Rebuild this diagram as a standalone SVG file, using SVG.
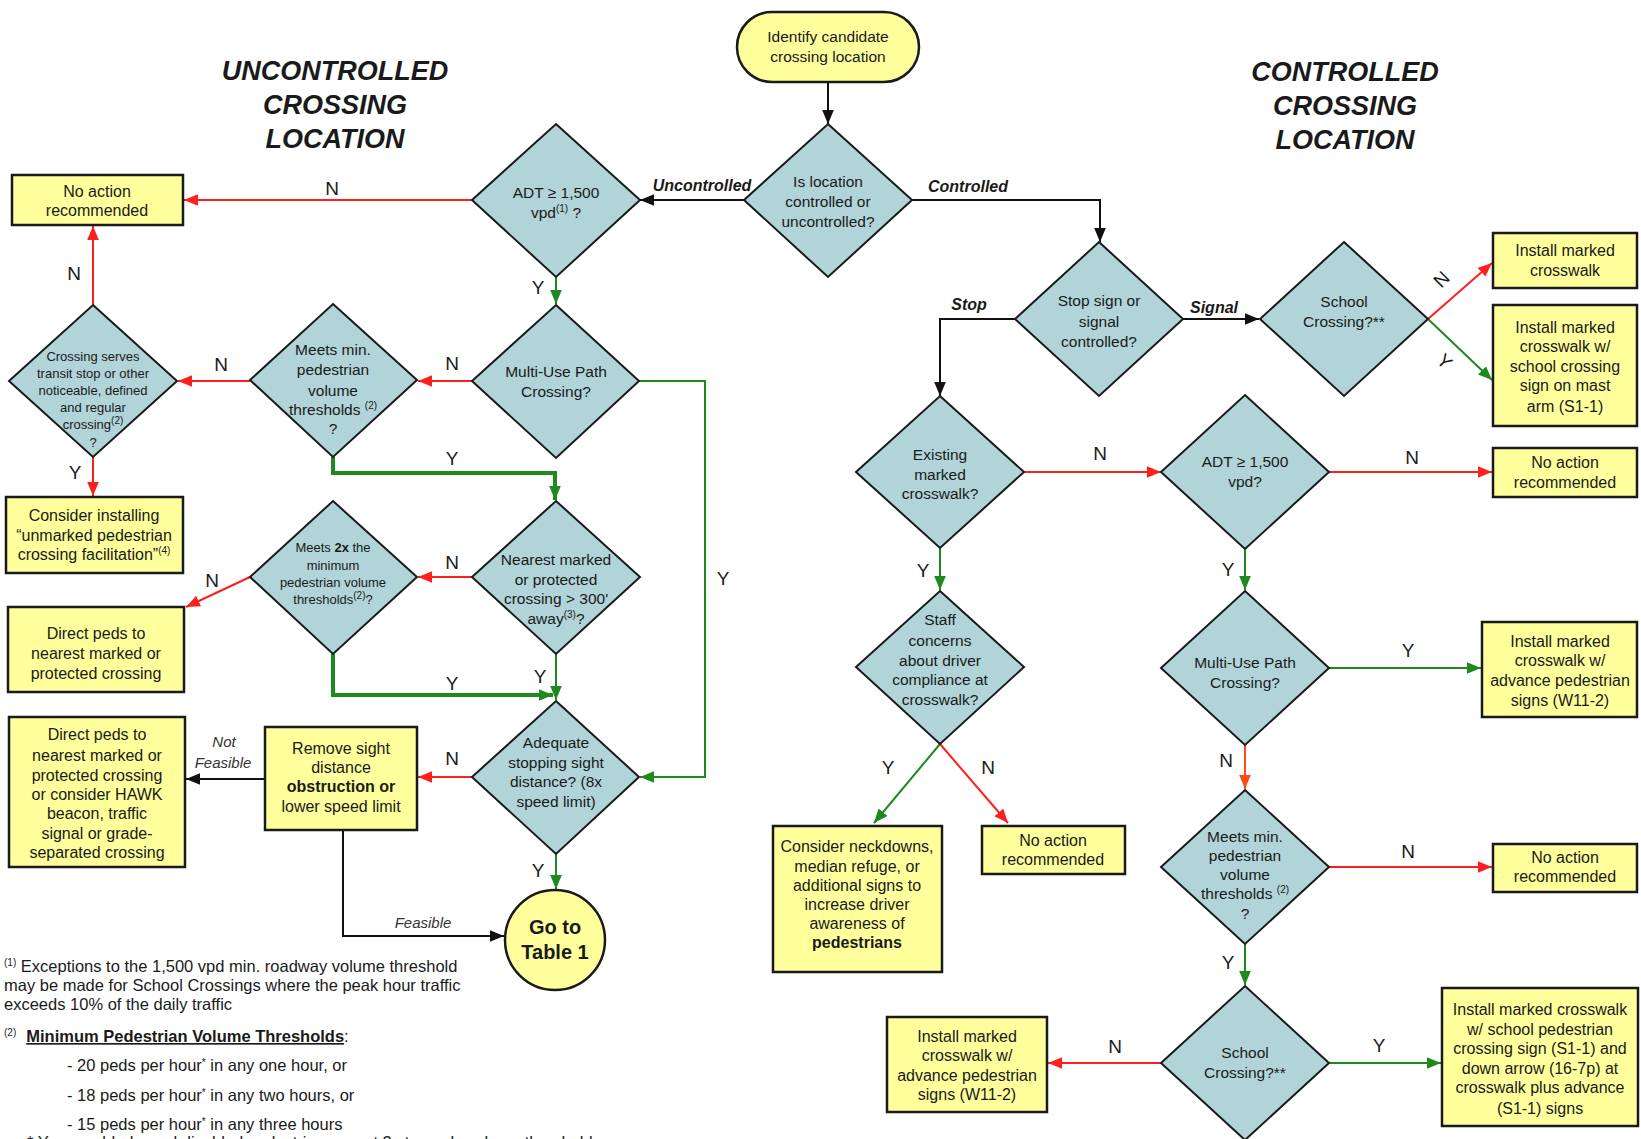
<svg xmlns="http://www.w3.org/2000/svg" width="1641" height="1139" viewBox="0 0 1641 1139">
<style>
text{font-family:"Liberation Sans",Arial,sans-serif;fill:#1a1a1a}
.dia{fill:#b0d4d8;stroke:#1a1a1a;stroke-width:2}
.box{fill:#ffff9c;stroke:#1a1a1a;stroke-width:2.5}
.t{font-size:15.5px;text-anchor:middle}
.ts{font-size:13px;text-anchor:middle}
.tb{font-size:16px;text-anchor:middle}
.sup{font-size:10px}
.lbl{font-size:19px;text-anchor:middle}
.hdr{font-size:27px;font-weight:bold;font-style:italic;text-anchor:middle}
.bi{font-size:16px;font-weight:bold;font-style:italic;text-anchor:middle}
.it{font-size:15px;font-style:italic;text-anchor:middle;fill:#333}
.fn{font-size:16.5px}
.k{stroke:#111;stroke-width:2;fill:none}
.r{stroke:#ff1f1f;stroke-width:2;fill:none}
.o{stroke:#ff4a1a;stroke-width:2;fill:none}
.g{stroke:#1e8a1e;stroke-width:2;fill:none}
.gt{stroke:#1e8a1e;stroke-width:4;fill:none}
</style>
<defs>
<marker id="ak" viewBox="0 0 12 10" refX="12" refY="5" markerWidth="14" markerHeight="12" markerUnits="userSpaceOnUse" orient="auto"><path d="M0,0 L12,5 L0,10 z" fill="#111"/></marker>
<marker id="ar" viewBox="0 0 12 10" refX="12" refY="5" markerWidth="14" markerHeight="12" markerUnits="userSpaceOnUse" orient="auto"><path d="M0,0 L12,5 L0,10 z" fill="#ff1f1f"/></marker>
<marker id="ao" viewBox="0 0 12 10" refX="12" refY="5" markerWidth="14" markerHeight="12" markerUnits="userSpaceOnUse" orient="auto"><path d="M0,0 L12,5 L0,10 z" fill="#ff4a1a"/></marker>
<marker id="ag" viewBox="0 0 12 10" refX="12" refY="5" markerWidth="14" markerHeight="12" markerUnits="userSpaceOnUse" orient="auto"><path d="M0,0 L12,5 L0,10 z" fill="#1e8a1e"/></marker>
</defs>
<rect width="1641" height="1139" fill="#ffffff"/>

<g id="titles">
<text class="hdr" x="335" y="80">UNCONTROLLED</text>
<text class="hdr" x="335" y="114">CROSSING</text>
<text class="hdr" x="335" y="148">LOCATION</text>
<text class="hdr" x="1345" y="81">CONTROLLED</text>
<text class="hdr" x="1345" y="115">CROSSING</text>
<text class="hdr" x="1345" y="149">LOCATION</text>
</g>

<g id="connectors">
<path class="k" d="M828,82 V124" marker-end="url(#ak)"/>
<path class="k" d="M744,200 H640" marker-end="url(#ak)"/>
<text class="bi" x="702" y="191">Uncontrolled</text>
<path class="k" d="M912,200 H1100 V242" marker-end="url(#ak)"/>
<text class="bi" x="968" y="192">Controlled</text>
<path class="r" d="M472,200 H184" marker-end="url(#ar)"/>
<text class="lbl" x="332" y="195">N</text>
<path class="g" d="M556,277 V304" marker-end="url(#ag)"/>
<text class="lbl" x="538" y="294">Y</text>
<path class="r" d="M472,381 H418" marker-end="url(#ar)"/>
<text class="lbl" x="452" y="370">N</text>
<path class="g" d="M639,381 H705 V777 H640" marker-end="url(#ag)"/>
<text class="lbl" x="723" y="585">Y</text>
<path class="r" d="M250,381 H178" marker-end="url(#ar)"/>
<text class="lbl" x="221" y="371">N</text>
<path class="gt" d="M333,457 V473 H555 V500" marker-end="url(#ag)"/>
<text class="lbl" x="452" y="465">Y</text>
<path class="r" d="M93,305 V226" marker-end="url(#ar)"/>
<text class="lbl" x="74" y="280">N</text>
<path class="r" d="M93,457 V496" marker-end="url(#ar)"/>
<text class="lbl" x="75" y="479">Y</text>
<path class="r" d="M472,577 H418" marker-end="url(#ar)"/>
<text class="lbl" x="452" y="569">N</text>
<path class="r" d="M250,577 L186,607" marker-end="url(#ar)"/>
<text class="lbl" x="212" y="587">N</text>
<path class="gt" d="M333,654 V695 H553" marker-end="url(#ag)"/>
<text class="lbl" x="452" y="690">Y</text>
<path class="g" d="M556,654 V700" marker-end="url(#ag)"/>
<text class="lbl" x="540" y="683">Y</text>
<path class="r" d="M472,777 H418" marker-end="url(#ar)"/>
<text class="lbl" x="452" y="765">N</text>
<path class="g" d="M556,854 V889" marker-end="url(#ag)"/>
<text class="lbl" x="538" y="877">Y</text>
<path class="k" d="M265,779 H186" marker-end="url(#ak)"/>
<text class="it" x="224" y="747">Not</text>
<text class="it" x="223" y="768">Feasible</text>
<path class="k" d="M343,830 V936 H504" marker-end="url(#ak)"/>
<text class="it" x="423" y="928">Feasible</text>
<path class="k" d="M1183,319 H1259" marker-end="url(#ak)"/>
<text class="bi" x="1214" y="313">Signal</text>
<path class="k" d="M1015,319 H940 V396" marker-end="url(#ak)"/>
<text class="bi" x="969" y="310">Stop</text>
<path class="r" d="M1428,319 L1492,263" marker-end="url(#ar)"/>
<text class="lbl" x="0" y="0" transform="translate(1446,284) rotate(-45)">N</text>
<path class="g" d="M1428,319 L1492,380" marker-end="url(#ag)"/>
<text class="lbl" x="0" y="0" transform="translate(1440,366) rotate(45)">Y</text>
<path class="r" d="M1024,472 H1161" marker-end="url(#ar)"/>
<text class="lbl" x="1100" y="460">N</text>
<path class="g" d="M940,548 V590" marker-end="url(#ag)"/>
<text class="lbl" x="923" y="577">Y</text>
<path class="r" d="M1329,472 H1492" marker-end="url(#ar)"/>
<text class="lbl" x="1412" y="464">N</text>
<path class="g" d="M1245,549 V590" marker-end="url(#ag)"/>
<text class="lbl" x="1228" y="576">Y</text>
<path class="g" d="M940,744 L874,823" marker-end="url(#ag)"/>
<text class="lbl" x="888" y="774">Y</text>
<path class="r" d="M940,744 L1008,823" marker-end="url(#ar)"/>
<text class="lbl" x="988" y="774">N</text>
<path class="g" d="M1329,668 H1481" marker-end="url(#ag)"/>
<text class="lbl" x="1408" y="657">Y</text>
<path class="o" d="M1245,745 V789" marker-end="url(#ao)"/>
<text class="lbl" x="1226" y="767">N</text>
<path class="r" d="M1329,867 H1492" marker-end="url(#ar)"/>
<text class="lbl" x="1408" y="858">N</text>
<path class="g" d="M1245,944 V985" marker-end="url(#ag)"/>
<text class="lbl" x="1228" y="969">Y</text>
<path class="g" d="M1329,1063 H1441" marker-end="url(#ag)"/>
<text class="lbl" x="1379" y="1052">Y</text>
<path class="r" d="M1161,1063 H1048" marker-end="url(#ar)"/>
<text class="lbl" x="1115" y="1053">N</text>
</g>

<g id="start">
<rect class="box" x="737" y="12" width="182" height="70" rx="35" ry="35"/>
<text class="t" x="828" y="42">Identify candidate</text>
<text class="t" x="828" y="62">crossing location</text>
</g>

<g id="d_location">
<polygon class="dia" points="828,124 912,200 828,277 744,200"/>
<text class="t" x="828" y="187">Is location</text>
<text class="t" x="828" y="207">controlled or</text>
<text class="t" x="828" y="227">uncontrolled?</text>
</g>

<g id="d_adt1">
<polygon class="dia" points="556,124 640,200 556,277 472,200"/>
<text class="t" x="556" y="198">ADT ≥ 1,500</text>
<text class="t" x="556" y="218">vpd<tspan class="sup" dy="-6">(1)</tspan><tspan dy="6"> ?</tspan></text>
</g>

<g id="noaction1">
<rect class="box" x="12" y="175" width="171" height="50"/>
<text class="tb" x="97" y="197">No action</text>
<text class="tb" x="97" y="216">recommended</text>
</g>

<g id="d_multi1">
<polygon class="dia" points="556,305 639,381 556,458 472,381"/>
<text class="t" x="556" y="377">Multi-Use Path</text>
<text class="t" x="556" y="397">Crossing?</text>
</g>

<g id="d_meets1">
<polygon class="dia" points="333,304 417,380 333,457 250,380"/>
<text class="t" x="333" y="355">Meets min.</text>
<text class="t" x="333" y="375">pedestrian</text>
<text class="t" x="333" y="396">volume</text>
<text class="t" x="333" y="415">thresholds <tspan class="sup" dy="-6">(2)</tspan></text>
<text class="t" x="333" y="434">?</text>
</g>

<g id="d_serves">
<polygon class="dia" points="93,305 177,381 93,457 9,381"/>
<text class="ts" x="93" y="361">Crossing serves</text>
<text class="ts" x="93" y="378">transit stop or other</text>
<text class="ts" x="93" y="395">noticeable, defined</text>
<text class="ts" x="93" y="412">and regular</text>
<text class="ts" x="93" y="429">crossing<tspan class="sup" dy="-5">(2)</tspan></text>
<text class="ts" x="93" y="447">?</text>
</g>

<g id="consider_unmarked">
<rect class="box" x="6" y="497" width="177" height="76"/>
<text class="tb" x="94" y="521">Consider installing</text>
<text class="tb" x="94" y="541">“unmarked pedestrian</text>
<text class="tb" x="94" y="560">crossing facilitation”<tspan class="sup" dy="-6">(4)</tspan></text>
</g>

<g id="d_meets2x">
<polygon class="dia" points="333,501 417,577 333,654 250,577"/>
<text class="ts" x="333" y="552">Meets <tspan font-weight="bold">2x</tspan> the</text>
<text class="ts" x="333" y="570">minimum</text>
<text class="ts" x="333" y="587">pedestrian volume</text>
<text class="ts" x="333" y="604">thresholds<tspan class="sup" dy="-5">(2)</tspan><tspan dy="5">?</tspan></text>
</g>

<g id="d_nearest">
<polygon class="dia" points="556,501 640,577 556,654 472,577"/>
<text class="t" x="556" y="565">Nearest marked</text>
<text class="t" x="556" y="585">or protected</text>
<text class="t" x="556" y="604">crossing &gt; 300'</text>
<text class="t" x="556" y="624">away<tspan class="sup" dy="-6">(3)</tspan><tspan dy="6">?</tspan></text>
</g>

<g id="direct1">
<rect class="box" x="8" y="607" width="176" height="85"/>
<text class="tb" x="96" y="639">Direct peds to</text>
<text class="tb" x="96" y="659">nearest marked or</text>
<text class="tb" x="96" y="679">protected crossing</text>
</g>

<g id="d_adequate">
<polygon class="dia" points="556,701 639,777 556,854 472,777"/>
<text class="t" x="556" y="748">Adequate</text>
<text class="t" x="556" y="768">stopping sight</text>
<text class="t" x="556" y="787">distance? (8x</text>
<text class="t" x="556" y="807">speed limit)</text>
</g>

<g id="remove">
<rect class="box" x="265" y="727" width="152" height="103"/>
<text class="tb" x="341" y="754">Remove sight</text>
<text class="tb" x="341" y="773">distance</text>
<text class="tb" x="341" y="792" font-weight="bold">obstruction or</text>
<text class="tb" x="341" y="812">lower speed limit</text>
</g>

<g id="direct2">
<rect class="box" x="9" y="717" width="176" height="150"/>
<text class="tb" x="97" y="740">Direct peds to</text>
<text class="tb" x="97" y="761">nearest marked or</text>
<text class="tb" x="97" y="781">protected crossing</text>
<text class="tb" x="97" y="800">or consider HAWK</text>
<text class="tb" x="97" y="819">beacon, traffic</text>
<text class="tb" x="97" y="839">signal or grade-</text>
<text class="tb" x="97" y="858">separated crossing</text>
</g>

<g id="table1">
<circle cx="555" cy="940" r="50" fill="#ffff9c" stroke="#1a1a1a" stroke-width="2.5"/>
<text x="555" y="934" font-size="20" font-weight="bold" text-anchor="middle">Go to</text>
<text x="555" y="959" font-size="20" font-weight="bold" text-anchor="middle">Table 1</text>
</g>

<g id="d_stop">
<polygon class="dia" points="1099,242 1183,319 1099,396 1015,319"/>
<text class="t" x="1099" y="306">Stop sign or</text>
<text class="t" x="1099" y="327">signal</text>
<text class="t" x="1099" y="347">controlled?</text>
</g>

<g id="d_school1">
<polygon class="dia" points="1344,242 1428,319 1344,396 1260,319"/>
<text class="t" x="1344" y="307">School</text>
<text class="t" x="1344" y="327">Crossing?**</text>
</g>

<g id="install1">
<rect class="box" x="1493" y="233" width="144" height="55"/>
<text class="tb" x="1565" y="256">Install marked</text>
<text class="tb" x="1565" y="276">crosswalk</text>
</g>

<g id="install2">
<rect class="box" x="1493" y="305" width="144" height="121"/>
<text class="tb" x="1565" y="333">Install marked</text>
<text class="tb" x="1565" y="352">crosswalk w/</text>
<text class="tb" x="1565" y="372">school crossing</text>
<text class="tb" x="1565" y="391">sign on mast</text>
<text class="tb" x="1565" y="412">arm (S1-1)</text>
</g>

<g id="d_existing">
<polygon class="dia" points="940,396 1024,472 940,548 856,472"/>
<text class="t" x="940" y="460">Existing</text>
<text class="t" x="940" y="480">marked</text>
<text class="t" x="940" y="499">crosswalk?</text>
</g>

<g id="d_adt2">
<polygon class="dia" points="1245,395 1329,472 1245,549 1161,472"/>
<text class="t" x="1245" y="467">ADT ≥ 1,500</text>
<text class="t" x="1245" y="487">vpd?</text>
</g>

<g id="noaction2">
<rect class="box" x="1493" y="448" width="144" height="49"/>
<text class="tb" x="1565" y="468">No action</text>
<text class="tb" x="1565" y="488">recommended</text>
</g>

<g id="d_staff">
<polygon class="dia" points="940,591 1024,667 940,744 856,667"/>
<text class="t" x="940" y="625">Staff</text>
<text class="t" x="940" y="646">concerns</text>
<text class="t" x="940" y="666">about driver</text>
<text class="t" x="940" y="685">compliance at</text>
<text class="t" x="940" y="705">crosswalk?</text>
</g>

<g id="d_multi2">
<polygon class="dia" points="1245,591 1329,668 1245,745 1161,668"/>
<text class="t" x="1245" y="668">Multi-Use Path</text>
<text class="t" x="1245" y="688">Crossing?</text>
</g>

<g id="install3">
<rect class="box" x="1482" y="622" width="155" height="95"/>
<text class="tb" x="1560" y="647">Install marked</text>
<text class="tb" x="1560" y="666">crosswalk w/</text>
<text class="tb" x="1560" y="686">advance pedestrian</text>
<text class="tb" x="1560" y="706">signs (W11-2)</text>
</g>

<g id="consider2">
<rect class="box" x="773" y="826" width="169" height="146"/>
<text class="tb" x="857" y="852">Consider neckdowns,</text>
<text class="tb" x="857" y="872">median refuge, or</text>
<text class="tb" x="857" y="891">additional signs to</text>
<text class="tb" x="857" y="910">increase driver</text>
<text class="tb" x="857" y="929">awareness of</text>
<text class="tb" x="857" y="948" font-weight="bold">pedestrians</text>
</g>

<g id="noaction3">
<rect class="box" x="982" y="826" width="143" height="48"/>
<text class="tb" x="1053" y="846">No action</text>
<text class="tb" x="1053" y="865">recommended</text>
</g>

<g id="d_meets3">
<polygon class="dia" points="1245,790 1329,867 1245,944 1161,867"/>
<text class="t" x="1245" y="842">Meets min.</text>
<text class="t" x="1245" y="861">pedestrian</text>
<text class="t" x="1245" y="880">volume</text>
<text class="t" x="1245" y="899">thresholds <tspan class="sup" dy="-6">(2)</tspan></text>
<text class="t" x="1245" y="919">?</text>
</g>

<g id="noaction4">
<rect class="box" x="1493" y="844" width="144" height="48"/>
<text class="tb" x="1565" y="863">No action</text>
<text class="tb" x="1565" y="882">recommended</text>
</g>

<g id="d_school2">
<polygon class="dia" points="1245,986 1329,1063 1245,1140 1161,1063"/>
<text class="t" x="1245" y="1058">School</text>
<text class="t" x="1245" y="1078">Crossing?**</text>
</g>

<g id="install4">
<rect class="box" x="887" y="1017" width="160" height="95"/>
<text class="tb" x="967" y="1042">Install marked</text>
<text class="tb" x="967" y="1061">crosswalk w/</text>
<text class="tb" x="967" y="1081">advance pedestrian</text>
<text class="tb" x="967" y="1100">signs (W11-2)</text>
</g>

<g id="install5">
<rect class="box" x="1442" y="988" width="196" height="138"/>
<text class="tb" x="1540" y="1015">Install marked crosswalk</text>
<text class="tb" x="1540" y="1035">w/ school pedestrian</text>
<text class="tb" x="1540" y="1054">crossing sign (S1-1) and</text>
<text class="tb" x="1540" y="1074">down arrow (16-7p) at</text>
<text class="tb" x="1540" y="1093">crosswalk plus advance</text>
<text class="tb" x="1540" y="1114">(S1-1) signs</text>
</g>

<g id="footnotes">
<text class="fn" x="4" y="972"><tspan class="sup" dy="-6">(1)</tspan><tspan dy="6"> Exceptions to the 1,500 vpd min. roadway volume threshold</tspan></text>
<text class="fn" x="4" y="991">may be made for School Crossings where the peak hour traffic</text>
<text class="fn" x="4" y="1010">exceeds 10% of the daily traffic</text>
<text class="fn" x="4" y="1042"><tspan class="sup" dy="-6">(2)</tspan><tspan dy="6" dx="10" font-weight="bold" text-decoration="underline">Minimum Pedestrian Volume Thresholds</tspan>:</text>
<text class="fn" x="67" y="1071">- 20 peds per hour<tspan class="sup" dy="-5">*</tspan><tspan dy="5"> in any one hour, or</tspan></text>
<text class="fn" x="67" y="1101">- 18 peds per hour<tspan class="sup" dy="-5">*</tspan><tspan dy="5"> in any two hours, or</tspan></text>
<text class="fn" x="67" y="1130">- 15 peds per hour<tspan class="sup" dy="-5">*</tspan><tspan dy="5"> in any three hours</tspan></text>
<text class="fn" x="27" y="1148">* Young, elderly, and disabled pedestrians count 2x towards volume thresholds</text>
</g>
</svg>
